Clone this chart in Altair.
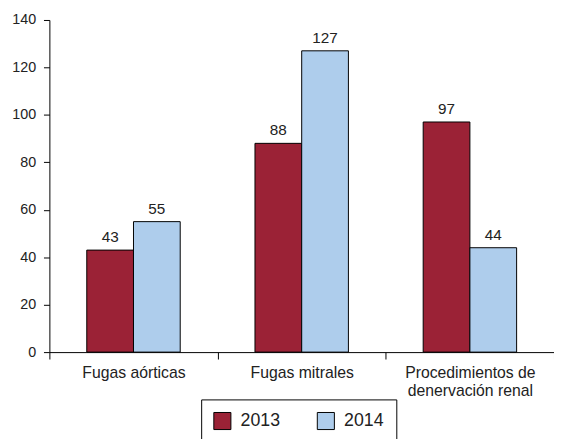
import altair as alt
import pandas as pd

categories = ["Fugas aórticas", "Fugas mitrales", "Procedimientos de denervación renal"]
years = ["2013", "2014"]
values_2013 = [43, 88, 97]
values_2014 = [55, 127, 44]
colors = ["#9b2236", "#aecdec"]
y_ticks = [0, 20, 40, 60, 80, 100, 120, 140]

rows = []
for c, v in zip(categories, values_2013):
    rows.append({"category": c, "year": "2013", "value": v})
for c, v in zip(categories, values_2014):
    rows.append({"category": c, "year": "2014", "value": v})
df = pd.DataFrame(rows)

label_expr = ("datum.label == 'Procedimientos de denervación renal' ? "
              "['Procedimientos de', 'denervación renal'] : datum.label")

x = alt.X("category:N", sort=categories,
          scale=alt.Scale(paddingInner=0, paddingOuter=0),
          axis=alt.Axis(title=None, labelAngle=0, tickBand="extent",
                        labelExpr=label_expr, tickSize=7, labelPadding=6,
                        labelFontSize=16, labelLineHeight=18))
xo = alt.XOffset("year:N", sort=years,
                 scale=alt.Scale(paddingInner=0, paddingOuter=0.8))
y = alt.Y("value:Q", scale=alt.Scale(domain=[0, 140], nice=False),
          axis=alt.Axis(title=None, values=y_ticks, grid=False, tickSize=6,
                        labelPadding=8, labelFontSize=14.5))

base = alt.Chart(df)

bars = base.mark_bar(stroke="black", strokeWidth=1).encode(
    x=x, xOffset=xo, y=y,
    color=alt.Color("year:N", sort=years,
                    scale=alt.Scale(domain=years, range=colors),
                    legend=alt.Legend(title=None, orient="none", legendX=154,
                                      legendY=385, direction="horizontal",
                                      strokeColor="black", fillColor="white",
                                      padding=12, symbolType="square",
                                      symbolSize=300, symbolStrokeColor="black",
                                      symbolStrokeWidth=1, labelFontSize=18,
                                      labelOffset=9, columnPadding=34,
                                      labelColor="#222", cornerRadius=0)),
)

text = base.mark_text(dy=-8, baseline="alphabetic", fontSize=15.5,
                      color="#222", font="Liberation Sans").encode(
    x=x, xOffset=xo, y=y, text="value:Q"
)

chart = (bars + text).properties(
    width=512, height=337,
    autosize=alt.AutoSizeParams(type="none"),
    padding={"left": 42, "top": 9, "right": 0, "bottom": 85},
).configure_view(stroke=None).configure_axis(
    domainColor="black", tickColor="black", labelColor="#222",
    labelFont="Liberation Sans", domainWidth=1, tickWidth=1
).configure_legend(labelFont="Liberation Sans")

chart.save("out.html", embed_options={"renderer": "svg", "actions": False})
